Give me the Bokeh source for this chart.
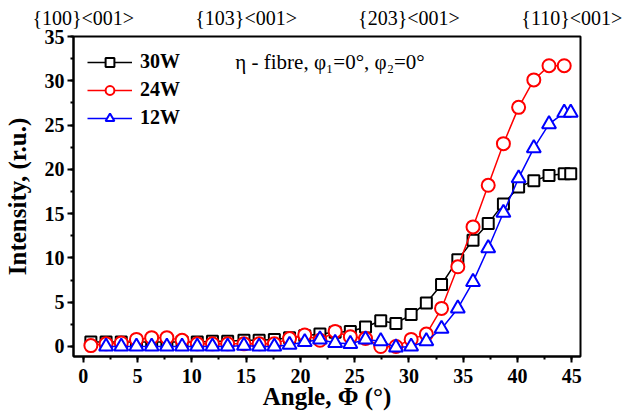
from bokeh.plotting import figure
from bokeh.models import (LinearAxis, FixedTicker, SingleIntervalTicker, Range1d,
                          Legend, LegendItem, Label)
from bokeh.embed import file_html
from bokeh.resources import INLINE

# ---- data ----
angle_30w = [0.7, 2.1, 3.5, 4.9, 6.3, 7.7, 9.1, 10.5, 11.9, 13.3, 14.8, 16.2, 17.6, 19.0,
             20.4, 21.8, 23.2, 24.6, 26.0, 27.4, 28.8, 30.2, 31.6, 33.0, 34.5, 35.9, 37.3,
             38.7, 40.1, 41.5, 42.9, 44.3, 44.9]
int_30w = [0.5, 0.5, 0.5, 0.5, 0.5, 0.5, 0.5, 0.5, 0.6, 0.6, 0.7, 0.7, 0.8, 1.0,
           1.2, 1.4, 1.6, 1.7, 2.2, 2.9, 2.6, 3.6, 4.9, 7.0, 9.8, 12.0, 13.9,
           16.1, 18.0, 18.7, 19.3, 19.5, 19.5]

angle_24w = [0.7, 2.1, 3.5, 4.9, 6.3, 7.7, 9.1, 10.5, 11.9, 13.3, 14.8, 16.2, 17.6, 19.0,
             20.4, 21.8, 23.2, 24.6, 26.0, 27.4, 28.8, 30.2, 31.6, 33.0, 34.5, 35.9, 37.3,
             38.7, 40.1, 41.5, 42.9, 44.3]
int_24w = [0.1, 0.3, 0.4, 0.8, 1.0, 1.0, 0.7, 0.3, 0.3, 0.3, 0.3, 0.3, 0.3, 0.9,
           1.3, 0.7, 1.7, 1.1, 0.9, 0.0, 0.0, 0.8, 1.4, 4.3, 9.0, 13.5, 18.2,
           22.9, 27.0, 30.1, 31.7, 31.7]

angle_12w = [2.1, 3.5, 4.9, 6.3, 7.7, 9.1, 10.5, 11.9, 13.3, 14.8, 16.2, 17.6, 19.0,
             20.4, 21.8, 23.2, 24.6, 26.0, 27.4, 28.8, 30.2, 31.6, 33.0, 34.5, 35.9, 37.3,
             38.7, 40.1, 41.5, 42.9, 44.3, 44.9]
int_12w = [0.0, 0.0, 0.0, 0.0, 0.0, 0.0, 0.0, 0.0, 0.0, 0.1, 0.0, 0.0, 0.2,
           0.5, 0.8, 0.4, 0.3, 0.8, 0.6, -0.1, 0.0, 0.6, 2.0, 4.3, 7.3, 11.1,
           15.1, 19.0, 22.4, 25.1, 26.4, 26.4]

series_labels = ["30W", "24W", "12W"]
top_ticks = [0, 15, 30, 45]
top_labels = ["{100}<001>", "{103}<001>", "{203}<001>", "{110}<001>"]
annotation_text = "η - fibre, φ₁=0°, φ₂=0°"
x_title = "Angle, Φ (°)"
y_title = "Intensity, (r.u.)"

FONT = "Liberation Serif"
Y0, Y1 = -1.13, 35
X0, X1 = -0.9, 45.8

p = figure(width=627, height=415, output_backend="svg", toolbar_location=None,
           x_range=Range1d(X0, X1), y_range=Range1d(Y0, Y1),
           min_border_left=72, min_border_right=47, min_border_top=36, min_border_bottom=59)
p.grid.visible = False
p.outline_line_color = "black"
p.outline_line_width = 2
p.outline_line_alpha = 1

for ax in (p.xaxis[0], p.yaxis[0]):
    ax.ticker = SingleIntervalTicker(interval=5, num_minor_ticks=2)
    ax.axis_line_width = 2
    ax.major_tick_line_width = 2
    ax.minor_tick_line_width = 2
    ax.major_tick_in = 0
    ax.major_tick_out = 6
    ax.minor_tick_in = 0
    ax.minor_tick_out = 3
    ax.major_label_text_font = FONT
    ax.major_label_text_font_style = "bold"
    ax.major_label_text_font_size = "20px"
    ax.major_label_text_color = "black"
    ax.axis_label_text_font = FONT
    ax.axis_label_text_font_style = "bold"
    ax.axis_label_text_font_size = "25px"
    ax.axis_label_text_color = "black"

p.xaxis.axis_label = x_title
p.yaxis.axis_label = y_title
p.xaxis.major_label_standoff = 6
p.xaxis.axis_label_standoff = -3
p.yaxis.major_label_standoff = 3
p.yaxis.axis_label_standoff = 11

top = LinearAxis(ticker=FixedTicker(ticks=top_ticks),
                 major_label_overrides={t: l for t, l in zip(top_ticks, top_labels)})
top.axis_line_color = None
top.major_tick_line_color = None
top.minor_tick_line_color = None
top.major_tick_out = 0
top.major_tick_in = 0
top.major_label_standoff = 8
top.major_label_text_font = FONT
top.major_label_text_font_size = "20px"
top.major_label_text_color = "black"
p.add_layout(top, "above")

items = []
specs = [
    (angle_30w, int_30w, "black", "square", 11),
    (angle_24w, int_24w, "red", "circle", 13),
    (angle_12w, int_12w, "blue", "triangle", 14),
]
for (xs, ys, col, mk, sz), lab in zip(specs, series_labels):
    lr = p.line(xs, ys, line_color=col, line_width=1.5)
    sr = p.scatter(xs, ys, marker=mk, size=sz, line_color=col, line_width=2,
                   fill_color="white")
    items.append(LegendItem(label=lab, renderers=[lr, sr]))

legend = Legend(items=items, location="top_left")
legend.border_line_color = None
legend.background_fill_alpha = 0
legend.margin = 14
legend.padding = 4
legend.glyph_width = 45
legend.glyph_height = 22
legend.label_standoff = 8
legend.spacing = 5
legend.label_text_font = FONT
legend.label_text_font_style = "bold"
legend.label_text_font_size = "20px"
legend.label_text_color = "black"
p.add_layout(legend, "center")

p.add_layout(Label(x=14.0, y=32.1, text=annotation_text, text_font=FONT,
                   text_font_size="21px", text_baseline="middle", text_align="left",
                   text_color="black"))

open("out.html", "w").write(file_html(p, INLINE))
